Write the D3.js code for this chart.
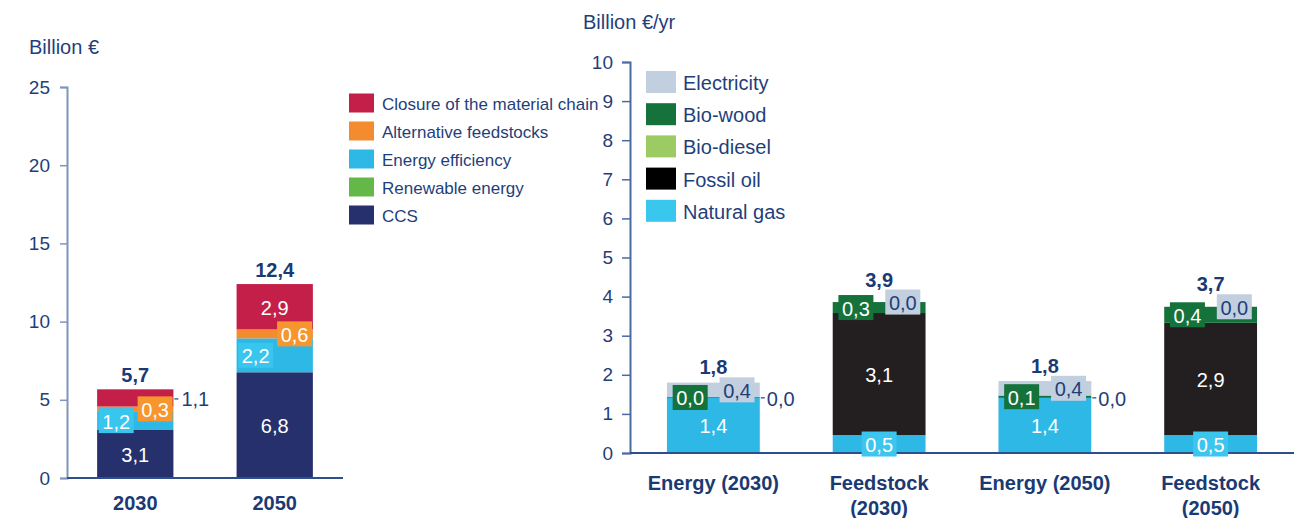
<!DOCTYPE html>
<html>
<head>
<meta charset="utf-8">
<script src="https://cdn.jsdelivr.net/npm/d3@7"></script>
<style>
  body { margin: 0; background: #fff; }
  svg { display: block; font-family: 'Liberation Sans', Arial, sans-serif; }
</style>
</head>
<body>
<svg id="chart" width="1313" height="518"></svg>
<script>
// left chart: investment, billion EUR
const leftYears = [`2030`, `2050`];
const leftSeries = [`CCS`, `Renewable energy`, `Energy efficiency`, `Alternative feedstocks`, `Closure of the material chain`];
const ccs = [3.07, 6.76];
const renewable = [0, 0];
const efficiency = [1.2, 2.17];
const altFeedstocks = [0.3, 0.57];
const closure = [1.1, 2.9];
const leftTicks = [0, 5, 10, 15, 20, 25];

// right chart: yearly cost, billion EUR/yr
const rightCats = [`Energy (2030)`, `Feedstock (2030)`, `Energy (2050)`, `Feedstock (2050)`];
const rightSeries = [`Natural gas`, `Fossil oil`, `Bio-diesel`, `Bio-wood`, `Electricity`];
const naturalGas = [1.41, 0.46, 1.41, 0.46];
const fossilOil = [0, 3.12, 0, 2.87];
const bioDiesel = [0, 0, 0, 0];
const bioWood = [0.02, 0.28, 0.06, 0.41];
const electricity = [0.37, 0, 0.37, 0];
const rightTicks = [0, 1, 2, 3, 4, 5, 6, 7, 8, 9, 10];

const textColor = `#1f3f7a`;
const fmt = d3.formatLocale({decimal: `,`, thousands: `.`, grouping: [3], currency: [``, ``]}).format(`.1f`);

const leftColors = {
    'CCS': `#25306c`,
    'Renewable energy': `#63b848`,
    'Energy efficiency': `#2db8e5`,
    'Alternative feedstocks': `#f28c2e`,
    'Closure of the material chain': `#c41f48`,
};
const leftBoxColors = {
    'Energy efficiency': `#38c5ee`,
    'Alternative feedstocks': `#f7962f`,
};
const rightColors = {
    'Natural gas': `#2db8e5`,
    'Fossil oil': `#231f20`,
    'Bio-diesel': `#9ccb64`,
    'Bio-wood': `#14723a`,
    'Electricity': `#c1cfdf`,
};
const rightLegendColors = {
    'Natural gas': `#3ac7ee`,
    'Fossil oil': `#000000`,
    'Bio-diesel': `#9ccb64`,
    'Bio-wood': `#14723a`,
    'Electricity': `#c1cfdf`,
};

const svg = d3.select(`#chart`);

// ---------- left chart ----------
const leftTable = leftYears.map((year, i) => ({
    year,
    'CCS': ccs[i],
    'Renewable energy': renewable[i],
    'Energy efficiency': efficiency[i],
    'Alternative feedstocks': altFeedstocks[i],
    'Closure of the material chain': closure[i],
}));

const xL = d3.scaleBand()
    .domain(leftYears)
    .range([67, 343])
    .paddingInner(0.453)
    .paddingOuter(0.216);

const yL = d3.scaleLinear()
    .domain([0, 25])
    .range([478, 87]);

const leftStack = d3.stack().keys(leftSeries)(leftTable);

const gL = svg.append(`g`);

gL.append(`g`)
    .attr(`transform`, `translate(67,0)`)
    .call(d3.axisLeft(yL).tickValues(leftTicks).tickSize(7).tickPadding(10))
    .call(g => g.select(`.domain`).attr(`stroke`, `#7f95ba`).attr(`stroke-width`, 2))
    .call(g => g.selectAll(`.tick line`).attr(`stroke`, `#7f95ba`).attr(`stroke-width`, 1.5))
    .call(g => g.selectAll(`.tick text`)
        .attr(`fill`, textColor)
        .style(`font-size`, `19px`)
        .style(`font-family`, `'Liberation Sans', Arial, sans-serif`));

gL.selectAll(`.layer`)
    .data(leftStack)
    .enter()
    .append(`g`)
    .attr(`fill`, d => leftColors[d.key])
    .selectAll(`rect`)
    .data(d => d)
    .enter()
    .append(`rect`)
    .attr(`x`, d => xL(d.data.year))
    .attr(`y`, d => yL(d[1]))
    .attr(`width`, xL.bandwidth())
    .attr(`height`, d => yL(d[0]) - yL(d[1]));

// baseline
gL.append(`line`)
    .attr(`x1`, 67).attr(`x2`, 343)
    .attr(`y1`, yL(0)).attr(`y2`, yL(0))
    .attr(`stroke`, `#2e4f8e`).attr(`stroke-width`, 2);

// segment labels
const boxW = 35;
const boxH = 25;
leftStack.forEach(layer => {
    layer.forEach(d => {
        const v = d[1] - d[0];
        if (v <= 0) return;
        const x0 = xL(d.data.year);
        const bw = xL.bandwidth();
        const yc = (yL(d[0]) + yL(d[1])) / 2;
        let cx = x0 + bw / 2;
        let color = `#fff`;
        let anchor = `middle`;
        if (layer.key === `Energy efficiency`) {
            cx = x0 + bw * 0.25;
            gL.append(`rect`).attr(`x`, cx - boxW / 2).attr(`y`, yc - boxH / 2)
                .attr(`width`, boxW).attr(`height`, boxH).attr(`fill`, leftBoxColors[layer.key]);
        } else if (layer.key === `Alternative feedstocks`) {
            cx = x0 + bw * 0.76;
            gL.append(`rect`).attr(`x`, cx - boxW / 2).attr(`y`, yc - boxH / 2)
                .attr(`width`, boxW).attr(`height`, boxH).attr(`fill`, leftBoxColors[layer.key]);
        } else if (layer.key === `Closure of the material chain` && v < 2) {
            // small closure segment: label outside with a leader
            gL.append(`line`)
                .attr(`x1`, x0 + bw + 1).attr(`x2`, x0 + bw + 5)
                .attr(`y1`, yc + 1).attr(`y2`, yc + 1)
                .attr(`stroke`, textColor).attr(`stroke-width`, 1.2);
            cx = x0 + bw + 8;
            color = textColor;
            anchor = `start`;
        }
        gL.append(`text`)
            .attr(`x`, cx)
            .attr(`y`, yc + 1)
            .attr(`text-anchor`, anchor)
            .attr(`dominant-baseline`, `central`)
            .attr(`fill`, color)
            .style(`font-size`, `20px`)
            .text(fmt(v));
    });
});

// totals
const leftTop = leftStack[leftStack.length - 1];
gL.selectAll(`.total`)
    .data(leftTop)
    .enter()
    .append(`text`)
    .attr(`x`, d => xL(d.data.year) + xL.bandwidth() / 2)
    .attr(`y`, d => yL(d[1]) - 14)
    .attr(`text-anchor`, `middle`)
    .attr(`dominant-baseline`, `central`)
    .attr(`fill`, `#1b3a73`)
    .style(`font-size`, `20px`)
    .style(`font-weight`, `bold`)
    .text(d => fmt(d[1]));

// category labels
gL.selectAll(`.cat`)
    .data(leftYears)
    .enter()
    .append(`text`)
    .attr(`x`, d => xL(d) + xL.bandwidth() / 2)
    .attr(`y`, 503)
    .attr(`text-anchor`, `middle`)
    .attr(`dominant-baseline`, `central`)
    .attr(`fill`, `#1b3a73`)
    .style(`font-size`, `20px`)
    .style(`font-weight`, `bold`)
    .text(d => d);

gL.append(`text`)
    .attr(`x`, 29)
    .attr(`y`, 54)
    .attr(`fill`, textColor)
    .style(`font-size`, `20px`)
    .text(`Billion €`);

// left legend
const legL = gL.selectAll(`.legL`)
    .data(leftSeries.slice().reverse())
    .enter()
    .append(`g`)
    .attr(`transform`, (d, i) => `translate(349, ${103 + i * 28})`);
legL.append(`rect`)
    .attr(`x`, 0).attr(`y`, -9.5)
    .attr(`width`, 25).attr(`height`, 19)
    .attr(`fill`, d => leftColors[d]);
legL.append(`text`)
    .attr(`x`, 33)
    .attr(`y`, 1)
    .attr(`dominant-baseline`, `central`)
    .attr(`fill`, textColor)
    .style(`font-size`, `17px`)
    .text(d => d);

// ---------- right chart ----------
const rightTable = rightCats.map((cat, i) => ({
    cat,
    'Natural gas': naturalGas[i],
    'Fossil oil': fossilOil[i],
    'Bio-diesel': bioDiesel[i],
    'Bio-wood': bioWood[i],
    'Electricity': electricity[i],
}));

const xR = d3.scaleBand()
    .domain(rightCats)
    .range([630, 1294])
    .paddingInner(0.44)
    .paddingOuter(0.223);

const yR = d3.scaleLinear()
    .domain([0, 10])
    .range([453, 62]);

const rightStack = d3.stack().keys(rightSeries)(rightTable);

const gR = svg.append(`g`);

gR.append(`g`)
    .attr(`transform`, `translate(630,0)`)
    .call(d3.axisLeft(yR).tickValues(rightTicks).tickSize(8).tickPadding(9))
    .call(g => g.select(`.domain`).attr(`stroke`, `#4a6aa0`).attr(`stroke-width`, 2))
    .call(g => g.selectAll(`.tick line`).attr(`stroke`, `#4a6aa0`).attr(`stroke-width`, 1.5))
    .call(g => g.selectAll(`.tick text`)
        .attr(`fill`, textColor)
        .style(`font-size`, `19px`)
        .style(`font-family`, `'Liberation Sans', Arial, sans-serif`));

gR.selectAll(`.layer`)
    .data(rightStack)
    .enter()
    .append(`g`)
    .attr(`fill`, d => rightColors[d.key])
    .selectAll(`rect`)
    .data(d => d)
    .enter()
    .append(`rect`)
    .attr(`x`, d => xR(d.data.cat))
    .attr(`y`, d => yR(d[1]))
    .attr(`width`, xR.bandwidth())
    .attr(`height`, d => yR(d[0]) - yR(d[1]));

gR.append(`line`)
    .attr(`x1`, 630).attr(`x2`, 1294)
    .attr(`y1`, yR(0)).attr(`y2`, yR(0))
    .attr(`stroke`, `#2e4f8e`).attr(`stroke-width`, 2);

rightStack.forEach(layer => {
    if (layer.key === `Bio-diesel`) return;
    layer.forEach(d => {
        const v = d[1] - d[0];
        const x0 = xR(d.data.cat);
        const bw = xR.bandwidth();
        const yc = (yR(d[0]) + yR(d[1])) / 2;
        let cx = x0 + bw / 2;
        let color = `#fff`;
        let anchor = `middle`;
        let box = null;
        if (layer.key === `Natural gas`) {
            if (v < 1) box = `#3cc5ee`;
        } else if (layer.key === `Fossil oil`) {
            if (v <= 0) {
                gR.append(`line`)
                    .attr(`x1`, x0 + bw + 1).attr(`x2`, x0 + bw + 5)
                    .attr(`y1`, yc).attr(`y2`, yc)
                    .attr(`stroke`, textColor).attr(`stroke-width`, 1.2);
                cx = x0 + bw + 7;
                color = textColor;
                anchor = `start`;
            }
        } else if (layer.key === `Bio-wood`) {
            cx = x0 + bw * 0.25;
            box = rightColors[`Bio-wood`];
        } else if (layer.key === `Electricity`) {
            cx = x0 + bw * 0.755;
            box = rightColors[`Electricity`];
            color = textColor;
        }
        if (box) {
            gR.append(`rect`).attr(`x`, cx - boxW / 2).attr(`y`, yc - boxH / 2)
                .attr(`width`, boxW).attr(`height`, boxH).attr(`fill`, box);
        }
        gR.append(`text`)
            .attr(`x`, cx)
            .attr(`y`, yc + 1)
            .attr(`text-anchor`, anchor)
            .attr(`dominant-baseline`, `central`)
            .attr(`fill`, color)
            .style(`font-size`, `20px`)
            .text(fmt(v));
    });
});

// totals sit above the electricity box
const rightTop = rightStack[rightStack.length - 1];
gR.selectAll(`.total`)
    .data(rightTop)
    .enter()
    .append(`text`)
    .attr(`x`, d => xR(d.data.cat) + xR.bandwidth() / 2)
    .attr(`y`, d => Math.min(yR(d[1]), (yR(d[0]) + yR(d[1])) / 2 - boxH / 2) - 10)
    .attr(`text-anchor`, `middle`)
    .attr(`dominant-baseline`, `central`)
    .attr(`fill`, `#1b3a73`)
    .style(`font-size`, `20px`)
    .style(`font-weight`, `bold`)
    .text(d => fmt(d[1]));

// category labels, feedstock ones wrap onto two lines
const catR = gR.selectAll(`.cat`)
    .data(rightCats)
    .enter()
    .append(`text`)
    .attr(`text-anchor`, `middle`)
    .attr(`fill`, `#1b3a73`)
    .style(`font-size`, `20px`)
    .style(`font-weight`, `bold`);
catR.each(function(d) {
    const t = d3.select(this);
    const cx = xR(d) + xR.bandwidth() / 2;
    const lines = d.startsWith(`Feedstock`) ? d.split(` `) : [d];
    lines.forEach((line, i) => {
        t.append(`tspan`)
            .attr(`x`, cx)
            .attr(`y`, 490 + i * 25)
            .text(line);
    });
});

gR.append(`text`)
    .attr(`x`, 583)
    .attr(`y`, 29)
    .attr(`fill`, textColor)
    .style(`font-size`, `20px`)
    .text(`Billion €/yr`);

const legR = gR.selectAll(`.legR`)
    .data(rightSeries.slice().reverse())
    .enter()
    .append(`g`)
    .attr(`transform`, (d, i) => `translate(646, ${82 + i * 32.2})`);
legR.append(`rect`)
    .attr(`x`, 0).attr(`y`, -11)
    .attr(`width`, 30).attr(`height`, 22)
    .attr(`fill`, d => rightLegendColors[d]);
legR.append(`text`)
    .attr(`x`, 37)
    .attr(`y`, 1)
    .attr(`dominant-baseline`, `central`)
    .attr(`fill`, textColor)
    .style(`font-size`, `20px`)
    .text(d => d);
</script>
</body>
</html>
